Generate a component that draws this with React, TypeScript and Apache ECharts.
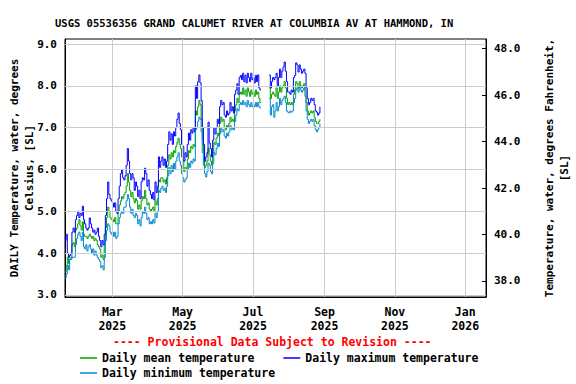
import React, { useEffect, useRef } from "react";
import * as echarts from "echarts";

// Day offsets are days since 19 Jan 2025 (the left edge of the plot).
const TITLE = "USGS 05536356 GRAND CALUMET RIVER AT COLUMBIA AV AT HAMMOND, IN";
const MONTH_DAYS = [41, 102, 163, 225, 286, 347];
const MONTH_LABELS = ["Mar\n2025", "May\n2025", "Jul\n2025", "Sep\n2025", "Nov\n2025", "Jan\n2026"];
const C_TICKS = [3, 4, 5, 6, 7, 8, 9];
const F_TICKS = [38, 40, 42, 44, 46, 48];
const FIRST_DAY = 0;

const N = null;
const MAX_T = [
  4.3, 4.45, 4.0, 3.9, 3.95, 4.0, 4.5, 4.6, 4.5,
  4.8, 4.9, 5.0, 4.85, 4.95, 4.9, 5.12,
  4.8, 4.7, 4.6, 4.55, 4.6, 4.84, 4.7,
  4.6, 4.5, 4.55, 4.45, 4.5, 4.6, 4.4, 4.3,
  4.15, 4.3, 4.2, 4.45, 4.9, 5.3, 5.7, 5.4, 5.3, 5.25,
  5.2, 5.1, 5.2, 5.0, 4.95, 5.3, 5.6, 5.9, 6.0, 5.8,
  5.75, 5.85, 6.1, 6.5, 6.2, 5.9, 5.75, 5.9, 5.8, 5.5,
  5.7, 5.6, 5.35, 5.5, 5.3, 5.7, 5.8, 5.75, 6.03, 5.9,
  5.6, 5.75, 5.5, 5.4, 5.3, 5.45, 5.27, 5.7, 5.45, 5.6,
  6.3, 6.05, 6.2, 6.3, 6.1, 6.25, 6.05, 6.2, 6.6, 6.9,
  6.7, 6.85, 6.6, 6.9, 6.8, 7.0, 7.2, 7.35, 7.1, 6.95,
  6.6, 6.55, 6.2, 6.4, 6.3, 6.6, 6.87, 6.7, 6.95, 6.87,
  7.0, 6.9, 8.0, 7.7, 8.1, 8.26, 8.07, 7.65, 7.0, 6.6,
  6.2, 6.3, 6.4, 7.13, 6.63, 6.5, 6.3, 6.7, 7.0, 6.85,
  7.0, 7.2, 7.1, 7.5, 7.65, 7.55, 7.6, 7.3, 7.25, 7.4,
  7.3, 7.35, 7.6, 7.4, 7.5, 7.35, 7.8, 7.9, 8.05, 7.8,
  8.2, 8.25, 8.15, 8.3, 8.1, 8.25, 8.07, 8.3, 8.2, 8.1,
  8.3, 8.15, 8.2, 8.07, 8.25, 8.1, 8.26, 7.95, 7.9,
  N, N, N, N, N, N, N,
  8.26, 7.95, 8.1, 8.2, 8.15, 8.2, 8.3, 8.0, 8.2, 8.4,
  8.2, 8.35, 8.45, 8.57, 8.35, 8.1, 7.85, 7.85, 7.8, 7.9,
  7.85, 8.2, 8.25, 8.55, 8.5, 8.33, 8.5, 8.4, 8.3, 8.35,
  8.4, 8.3, 7.95, 7.7, 7.55, 7.6, 7.7, 7.65, 7.7, 7.55,
  7.4, 7.37, 7.3, 7.35, 7.5,
];
const MEAN_T = [
  3.55, 3.7, 3.9, 3.75, 3.85, 3.9, 4.2, 4.25, 4.15,
  4.55, 4.6, 4.7, 4.8, 4.65, 4.55, 4.75,
  4.45, 4.4, 4.4, 4.35, 4.4, 4.45, 4.4,
  4.35, 4.4, 4.3, 4.35, 4.3, 4.2, 4.15, 4.1,
  3.9, 3.95, 3.85, 4.2, 4.6, 4.85, 5.1, 5.0, 4.85, 4.8,
  4.8, 4.75, 4.85, 4.7, 4.7, 5.0, 5.15, 5.25, 5.35, 5.3,
  5.4, 5.45, 5.6, 5.9, 5.7, 5.5, 5.35, 5.45, 5.3, 5.2,
  5.3, 5.25, 5.05, 5.15, 5.05, 5.25, 5.35, 5.3, 5.5, 5.3,
  5.15, 5.2, 5.05, 5.0, 5.05, 5.1, 5.0, 5.25, 5.15, 5.3,
  5.75, 5.7, 5.8, 5.8, 5.7, 5.75, 5.65, 5.8, 6.1, 6.35,
  6.25, 6.4, 6.3, 6.45, 6.4, 6.55, 6.65, 6.75, 6.6, 6.5,
  6.3, 6.2, 5.95, 6.05, 6.0, 6.25, 6.45, 6.4, 6.55, 6.5,
  6.6, 6.55, 7.4, 7.3, 7.5, 7.65, 7.55, 7.2, 6.7, 6.4,
  6.05, 6.1, 6.2, 6.5, 6.35, 6.2, 6.1, 6.4, 6.65, 6.6,
  6.75, 6.87, 6.8, 7.1, 7.25, 7.15, 7.2, 7.0, 6.95, 7.05,
  7.0, 7.1, 7.25, 7.15, 7.2, 7.15, 7.4, 7.55, 7.7, 7.6,
  7.8, 7.85, 7.8, 7.95, 7.8, 7.9, 7.75, 7.95, 7.85, 7.75,
  7.9, 7.8, 7.85, 7.75, 7.9, 7.8, 7.85, 7.7, 7.6,
  N, N, N, N, N, N, N,
  7.95, 7.7, 7.8, 7.85, 7.8, 7.75, 7.95, 7.7, 7.85, 8.0,
  7.85, 7.95, 8.0, 8.1, 7.95, 7.7, 7.55, 7.6, 7.55, 7.6,
  7.55, 7.8, 7.9, 8.1, 8.05, 7.95, 8.1, 8.0, 7.95, 8.0,
  8.05, 7.9, 7.6, 7.4, 7.3, 7.35, 7.4, 7.35, 7.4, 7.25,
  7.15, 7.1, 7.1, 7.15, 7.2,
];
const MIN_T = [
  3.4, 3.5, 3.7, 3.6, 3.85, 3.85, 3.9, 3.9, 3.9,
  4.2, 4.35, 4.45, 4.5, 4.4, 4.3, 4.5,
  4.15, 4.1, 4.2, 4.05, 4.15, 4.2, 4.1,
  4.0, 4.1, 3.95, 4.05, 3.95, 3.9, 3.85, 3.8,
  3.65, 3.7, 3.6, 3.9, 4.3, 4.55, 4.7, 4.65, 4.5, 4.45,
  4.5, 4.4, 4.5, 4.35, 4.4, 4.7, 4.85, 4.95, 5.0, 4.95,
  5.1, 5.1, 5.25, 5.4, 5.3, 5.1, 4.95, 5.05, 4.9, 4.85,
  4.95, 4.9, 4.7, 4.8, 4.65, 4.85, 5.0, 4.95, 5.1, 4.95,
  4.8, 4.85, 4.7, 4.75, 4.7, 4.8, 4.72, 4.95, 4.85, 5.0,
  5.5, 5.45, 5.55, 5.6, 5.5, 5.55, 5.45, 5.6, 5.85, 6.05,
  5.9, 6.1, 5.95, 6.15, 6.0, 6.2, 6.3, 6.4, 6.2, 6.1,
  5.9, 5.8, 5.7, 5.75, 5.8, 6.0, 6.15, 6.05, 6.2, 6.15,
  6.25, 6.2, 6.95, 7.0, 7.15, 7.25, 7.2, 6.9, 6.4, 6.1,
  5.9, 5.82, 5.95, 6.15, 6.1, 5.95, 5.9, 6.15, 6.4, 6.35,
  6.5, 6.63, 6.55, 6.85, 7.0, 6.9, 6.95, 6.8, 6.75, 6.87,
  6.8, 6.9, 7.05, 6.95, 7.0, 6.95, 7.15, 7.3, 7.45, 7.4,
  7.55, 7.6, 7.55, 7.65, 7.55, 7.6, 7.5, 7.65, 7.55, 7.5,
  7.6, 7.5, 7.55, 7.5, 7.6, 7.5, 7.6, 7.5, 7.47,
  N, N, N, N, N, N, N,
  7.7, 7.3, 7.5, 7.55, 7.25, 7.4, 7.6, 7.4, 7.5, 7.7,
  7.55, 7.65, 7.7, 7.75, 7.6, 7.4, 7.37, 7.35, 7.4, 7.37,
  7.4, 7.6, 7.7, 7.9, 7.95, 7.85, 7.97, 7.9, 7.85, 7.9,
  7.95, 7.75, 7.4, 7.2, 7.1, 7.15, 7.2, 7.15, 7.2, 7.05,
  6.95, 6.9, 6.95, 7.0, 7.1,
];

const C_MIN = 2.95;
const C_MAX = 9.12;
const toF = (c: number) => c * 1.8 + 32;

const FONT = "DejaVu Sans Mono";
const GRID_COLOR = "#cccccc";

function toPairs(arr: (number | null)[]) {
  return arr.map((v, i) => [FIRST_DAY + i, v]);
}

export default function App() {
  const ref = useRef<HTMLDivElement>(null);
  useEffect(() => {
    if (!ref.current) return;
    const chart = echarts.init(ref.current, undefined, { renderer: "svg" });
    const lineSeries = (name: string, data: (number | null)[], color: string) => ({
      name,
      type: "line",
      step: "end",
      data: toPairs(data),
      showSymbol: false,
      connectNulls: false,
      lineStyle: { color, width: 1 },
      itemStyle: { color },
      z: 3,
    });
    const legendText = { fontFamily: FONT, fontWeight: "bold", fontSize: 11.5, color: "#000" };
    const labelStyle = { fontFamily: FONT, fontWeight: "bold", fontSize: 11, color: "#000" };
    chart.setOption({
      animation: false,
      backgroundColor: "#fff",
      title: {
        text: TITLE,
        left: 50,
        top: 12,
        textStyle: { fontFamily: FONT, fontWeight: "bold", fontSize: 10.5, color: "#000" },
      },
      grid: {
        left: 65,
        right: 90,
        top: 39,
        bottom: 87,
        show: true,
        borderColor: "#000",
        borderWidth: 1,
        backgroundColor: "transparent",
        outerBoundsMode: "none",
        containLabel: false,
      },
      legend: [
        {
          data: ["Daily mean temperature", "Daily maximum temperature"],
          left: 75,
          top: 347,
          icon: "rect",
          itemWidth: 17,
          itemHeight: 1.5,
          itemGap: 29,
          textStyle: legendText,
          selectedMode: false,
        },
        {
          data: ["Daily minimum temperature"],
          left: 75,
          top: 362,
          icon: "rect",
          itemWidth: 17,
          itemHeight: 1.5,
          textStyle: legendText,
          selectedMode: false,
        },
      ],
      graphic: [
        {
          type: "text",
          left: 113,
          top: 336,
          style: {
            text: "---- Provisional Data Subject to Revision ----",
            fill: "#ff0000",
            font: `bold 11.5px "${FONT}"`,
          },
        },
      ],
      xAxis: {
        type: "value",
        min: 0,
        max: 365,
        axisLine: { show: true, lineStyle: { color: "#000" } },
        axisTick: { show: true, inside: true, length: 4, customValues: MONTH_DAYS, lineStyle: { color: "#000" } },
        axisLabel: {
          customValues: MONTH_DAYS,
          formatter: (v: number) => {
            const i = MONTH_DAYS.indexOf(Math.round(v));
            return i >= 0 ? MONTH_LABELS[i] : "";
          },
          ...legendText,
          lineHeight: 14,
          margin: 8,
        },
        splitLine: { show: false },
      },
      yAxis: [
        {
          type: "value",
          min: C_MIN,
          max: C_MAX,
          position: "left",
          name: "DAILY Temperature, water, degrees\nCelsius, [SL]",
          nameLocation: "middle",
          nameGap: 28,
          nameMoveOverlap: false,
          nameTextStyle: { ...labelStyle, lineHeight: 15 },
          axisLine: { show: true, lineStyle: { color: "#000" } },
          axisTick: { show: true, inside: true, length: 4, customValues: C_TICKS, lineStyle: { color: "#000" } },
          axisLabel: {
            customValues: C_TICKS,
            formatter: (v: number) => v.toFixed(1),
            ...labelStyle,
            margin: 8,
          },
          splitLine: { show: false },
        },
        {
          type: "value",
          min: toF(C_MIN),
          max: toF(C_MAX),
          position: "right",
          name: "Temperature, water, degrees Fahrenheit,\n[SL]",
          nameLocation: "middle",
          nameGap: 56,
          nameRotate: 90,
          nameMoveOverlap: false,
          nameTextStyle: { ...labelStyle, lineHeight: 15 },
          axisLine: { show: true, lineStyle: { color: "#000" } },
          axisTick: { show: true, inside: true, length: 4, customValues: F_TICKS, lineStyle: { color: "#000" } },
          axisLabel: {
            customValues: F_TICKS,
            formatter: (v: number) => v.toFixed(1),
            ...labelStyle,
            margin: 8,
          },
          splitLine: { show: false },
        },
      ],
      series: [
        {
          name: "grid-lines",
          type: "line",
          data: [],
          silent: true,
          z: 1,
          markLine: {
            silent: true,
            symbol: "none",
            label: { show: false },
            lineStyle: { color: GRID_COLOR, width: 1, type: "solid" },
            data: [
              ...C_TICKS.filter((v) => v > C_MIN && v < C_MAX).map((v) => ({ yAxis: v })),
              ...MONTH_DAYS.map((d) => ({ xAxis: d })),
            ],
          },
        },
        lineSeries("Daily mean temperature", MEAN_T, "#00a000"),
        lineSeries("Daily maximum temperature", MAX_T, "#0000ff"),
        lineSeries("Daily minimum temperature", MIN_T, "#0088d0"),
      ],
    });
    return () => chart.dispose();
  }, []);
  return (
    <div
      ref={ref}
      style={{ position: "fixed", left: 0, top: 0, width: 576, height: 384, background: "#fff" }}
    />
  );
}
